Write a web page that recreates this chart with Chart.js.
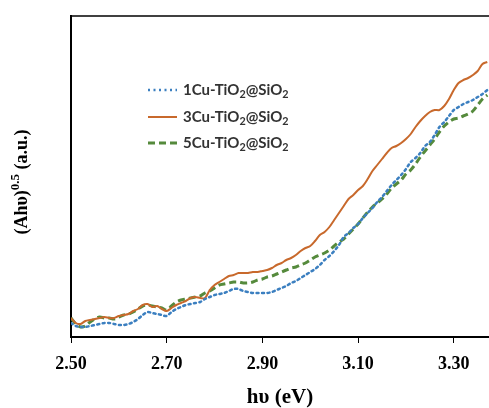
<!DOCTYPE html>
<html>
<head>
<meta charset="utf-8">
<script src="https://cdn.jsdelivr.net/npm/chart.js@4"></script>
<style>
  html, body { margin: 0; padding: 0; background: #fff; overflow: hidden; }
  canvas { display: block; }
</style>
</head>
<body>
<canvas id="bandChart" width="489" height="408"></canvas>
<script>
// photon energy, eV
var energy = [];
for (var i = 0; i <= 87; i++) energy.push(+(2.5 + i * 0.01).toFixed(2));

var xTicks = [2.5, 2.7, 2.9, 3.1, 3.3];

var cu1 = [14, 11, 10, 10, 11, 12, 13, 14, 14, 13, 12, 12, 13, 15, 18, 22, 25, 24, 23, 22,
  21, 25, 28, 30, 32, 33, 34, 35, 38, 40, 42, 43, 44, 46, 48, 48, 46, 45, 44, 44,
  44, 44, 45, 47, 49, 51, 54, 56, 59, 62, 65, 68, 72, 77, 81, 86, 92, 100, 104, 109,
  113, 119, 124, 129, 135, 140, 146, 152, 157, 162, 168, 175, 179, 184, 191, 195, 202, 210, 215, 221,
  227, 230, 233, 235, 237, 240, 243, 247];

var cu3 = [19, 14, 13, 16, 17, 18, 19, 20, 19, 19, 21, 22, 23, 26, 28, 32, 33, 30, 31, 28,
  26, 29, 32, 34, 36, 39, 40, 39, 39, 47, 52, 55, 58, 61, 62, 64, 64, 64, 65, 65,
  66, 67, 69, 72, 74, 77, 79, 82, 86, 89, 91, 96, 102, 105, 110, 117, 124, 131, 138, 142,
  147, 151, 158, 166, 172, 178, 184, 189, 191, 194, 198, 203, 210, 216, 221, 225, 227, 227, 231, 238,
  247, 254, 257, 259, 262, 266, 273, 275];

var cu5 = [19, 13, 10, 11, 15, 18, 20, 19, 19, 18, 20, 22, 23, 25, 28, 31, 32, 31, 30, 29,
  27, 31, 35, 37, 38, 39, 40, 41, 44, 46, 49, 52, 53, 54, 55, 55, 54, 54, 55, 57,
  58, 60, 61, 63, 65, 67, 69, 70, 72, 74, 77, 80, 82, 84, 87, 91, 95, 98, 103, 108,
  113, 119, 125, 130, 134, 138, 143, 149, 153, 157, 163, 167, 173, 180, 186, 192, 198, 205, 211, 215,
  218, 219, 221, 223, 226, 232, 238, 242];

function pts(vals) {
  return vals.map(function (v, i) { return { x: energy[i], y: v }; });
}

// draws text with sub / sup segments
function richText(ctx, parts, x, y, size, family) {
  var cx = x;
  parts.forEach(function (p) {
    var s = p.sub || p.sup ? size * 0.72 : size;
    ctx.font = 'bold ' + s + 'px ' + family;
    var dy = p.sub ? size * 0.28 : (p.sup ? -size * 0.38 : 0);
    ctx.fillText(p.t, cx, y + dy);
    cx += ctx.measureText(p.t).width;
  });
  return cx - x;
}

function label(n) {
  return [{ t: n + 'Cu-TiO' }, { t: '2', sub: true }, { t: '@SiO' }, { t: '2', sub: true }];
}

var serif = '"Liberation Serif", "Times New Roman", serif';

var decorPlugin = {
  id: 'decor',
  afterDraw: function (chart) {
    var ctx = chart.ctx, a = chart.chartArea;
    ctx.save();
    // top frame line
    ctx.strokeStyle = '#000';
    ctx.lineWidth = 1.5;
    ctx.beginPath();
    ctx.moveTo(a.left, a.top);
    ctx.lineTo(a.right, a.top);
    ctx.stroke();

    // legend
    var rows = [90, 117, 143];
    chart.data.datasets.forEach(function (ds, i) {
      ctx.strokeStyle = ds.borderColor;
      ctx.lineWidth = ds.borderWidth;
      ctx.setLineDash(ds.borderDash || []);
      ctx.beginPath();
      ctx.moveTo(148, rows[i]);
      ctx.lineTo(177, rows[i]);
      ctx.stroke();
      ctx.setLineDash([]);
      ctx.fillStyle = '#333';
      ctx.textBaseline = 'middle';
      ctx.textAlign = 'left';
      richText(ctx, label(ds.tag), 183, rows[i], 15, 'Lato, "Open Sans", sans-serif');
    });

    // y axis title
    ctx.translate(22, 182);
    ctx.rotate(-Math.PI / 2);
    ctx.fillStyle = '#000';
    ctx.textBaseline = 'middle';
    var parts = [{ t: '(Ah\u03c5)' }, { t: '0.5', sup: true }, { t: ' (a.u.)' }];
    var w = richText(ctx, parts, 0, -1000, 18, serif); // measure offscreen
    richText(ctx, parts, -w / 2, 0, 18, serif);
    ctx.restore();
  }
};

var ctx = document.getElementById('bandChart').getContext('2d');
new Chart(ctx, {
  type: 'line',
  data: {
    datasets: [{
      tag: 1,
      label: '1Cu-TiO2@SiO2',
      data: pts(cu1),
      borderColor: '#3b7fc0',
      borderWidth: 2.5,
      borderDash: [2, 3.5],
      borderCapStyle: 'round'
    }, {
      tag: 3,
      label: '3Cu-TiO2@SiO2',
      data: pts(cu3),
      borderColor: '#c8692c',
      borderWidth: 2
    }, {
      tag: 5,
      label: '5Cu-TiO2@SiO2',
      data: pts(cu5),
      borderColor: '#558a3c',
      borderWidth: 3,
      borderDash: [7, 4]
    }]
  },
  options: {
    responsive: false,
    animation: false,
    devicePixelRatio: 1,
    layout: { padding: { top: 16, right: 0, left: 0, bottom: 0 } },
    elements: { point: { radius: 0 }, line: { tension: 0.3 } },
    plugins: { legend: { display: false }, tooltip: { enabled: false } },
    scales: {
      x: {
        type: 'linear',
        min: 2.5,
        max: 3.3736,
        afterFit: function (s) { s.height = 71; },
        afterBuildTicks: function (s) { s.ticks = xTicks.map(function (v) { return { value: v }; }); },
        grid: { drawOnChartArea: false, tickLength: 6, color: '#000', lineWidth: 1 },
        border: { color: '#000', width: 2 },
        ticks: {
          padding: 11,
          color: '#000',
          maxRotation: 0,
          font: { family: serif, size: 18, weight: 'bold' },
          callback: function (v) { return v.toFixed(2); }
        },
        title: {
          display: true,
          text: 'h\u03c5 (eV)',
          color: '#000',
          padding: { top: 0, bottom: 0 },
          font: { family: serif, size: 21, weight: 'bold', lineHeight: 1.0 }
        }
      },
      y: {
        min: 0,
        max: 321,
        afterFit: function (s) { s.width = 71; },
        grid: { display: false },
        border: { color: '#000', width: 2 },
        ticks: { display: false }
      }
    }
  },
  plugins: [decorPlugin]
});
</script>
</body>
</html>
